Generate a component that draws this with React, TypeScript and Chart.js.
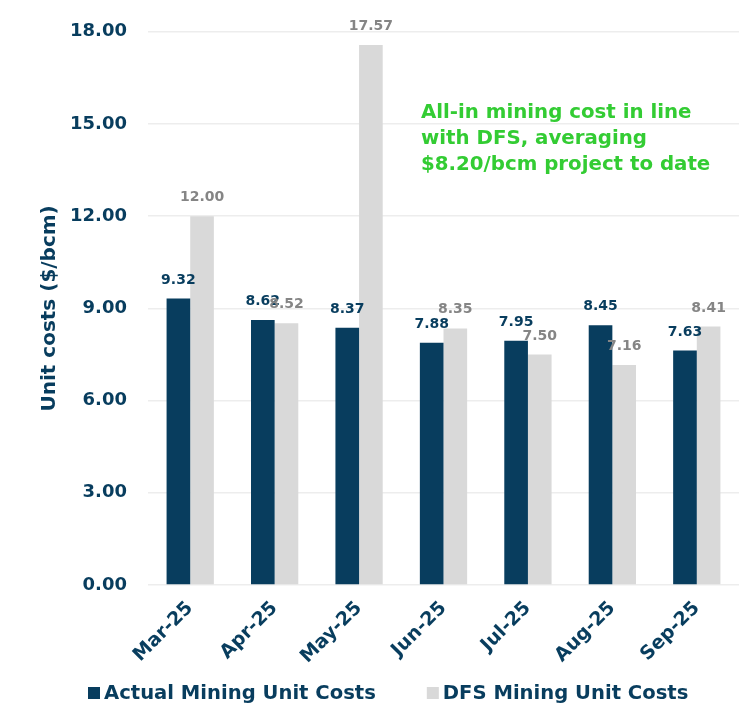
import React, { useEffect, useRef } from "react";
import { Chart, registerables } from "chart.js";

Chart.register(...registerables);

const categories = ["Mar-25", "Apr-25", "May-25", "Jun-25", "Jul-25", "Aug-25", "Sep-25"];
const actualCosts = [9.32, 8.62, 8.37, 7.88, 7.95, 8.45, 7.63];
const dfsCosts = [12.0, 8.52, 17.57, 8.35, 7.5, 7.16, 8.41];
const yTicks = [0, 3, 6, 9, 12, 15, 18];
const annotationLines = ["All-in mining cost in line", "with DFS, averaging", "$8.20/bcm project to date"];
const seriesNames = ["Actual Mining Unit Costs", "DFS Mining Unit Costs"];

const NAVY = "#083d5e";
const GRAY = "#d9d9d9";
const LABEL_GRAY = "#858585";
const GREEN = "#33cc33";
const FONT = "'DejaVu Sans', sans-serif";

export default function App() {
  const ref = useRef<HTMLCanvasElement | null>(null);
  useEffect(() => {
    if (!ref.current) return;
    const valueLabels = {
      id: "valueLabels",
      afterDatasetsDraw(chart: any) {
        const ctx = chart.ctx;
        ctx.save();
        ctx.textAlign = "center";
        ctx.textBaseline = "alphabetic";
        ctx.font = `bold 14px ${FONT}`;
        chart.data.datasets.forEach((ds: any, di: number) => {
          const meta = chart.getDatasetMeta(di);
          ctx.fillStyle = di === 0 ? NAVY : LABEL_GRAY;
          meta.data.forEach((el: any, i: number) => {
            ctx.fillText(Number(ds.data[i]).toFixed(2), el.x, el.y - 15);
          });
        });
        ctx.restore();
      },
    };
    const annotation = {
      id: "annotation",
      afterDraw(chart: any) {
        const ctx = chart.ctx;
        ctx.save();
        ctx.fillStyle = GREEN;
        ctx.font = `bold 19.8px ${FONT}`;
        ctx.textAlign = "left";
        ctx.textBaseline = "alphabetic";
        annotationLines.forEach((line, i) => {
          ctx.fillText(line, 421, 118 + i * 26);
        });
        ctx.restore();
      },
    };
    const bottomLegend = {
      id: "bottomLegend",
      afterDraw(chart: any) {
        const ctx = chart.ctx;
        ctx.save();
        ctx.font = `bold 19.6px ${FONT}`;
        ctx.textAlign = "left";
        ctx.textBaseline = "middle";
        const yMid = 693;
        let x = 88;
        chart.data.datasets.forEach((ds: any) => {
          ctx.fillStyle = ds.backgroundColor;
          ctx.fillRect(x, yMid - 6, 12, 12);
          x += 16;
          ctx.fillStyle = NAVY;
          ctx.fillText(ds.label, x, yMid + 1);
          x += ctx.measureText(ds.label).width + 51;
        });
        ctx.restore();
      },
    };
    const chart = new Chart(ref.current, {
      type: "bar",
      data: {
        labels: categories,
        datasets: [
          { label: seriesNames[0], data: actualCosts, backgroundColor: NAVY, categoryPercentage: 0.56, barPercentage: 1 },
          { label: seriesNames[1], data: dfsCosts, backgroundColor: GRAY, categoryPercentage: 0.56, barPercentage: 1 },
        ],
      },
      options: {
        animation: false,
        responsive: false,
        layout: { padding: { top: 22, right: 5, left: 38, bottom: 30 } },
        plugins: {
          legend: { display: false },
          tooltip: { enabled: false },
        },
        scales: {
          x: {
            grid: { display: false },
            border: { display: false },
            ticks: {
              color: NAVY,
              font: { family: FONT, size: 19, weight: "bold" },
              maxRotation: 45,
              minRotation: 45,
              padding: 4,
            },
            afterFit(scale: any) {
              scale.height = 92;
            },
          },
          y: {
            min: 0,
            max: 18,
            afterBuildTicks(scale: any) {
              scale.ticks = yTicks.map((v) => ({ value: v }));
            },
            grid: { color: "#ededed", lineWidth: 1.5, drawTicks: false },
            border: { display: false },
            ticks: {
              color: NAVY,
              font: { family: FONT, size: 18, weight: "bold" },
              padding: 21,
              callback: (v: any) => Number(v).toFixed(2),
            },
            title: {
              display: true,
              text: "Unit costs ($/bcm)",
              color: NAVY,
              font: { family: FONT, size: 20, weight: "bold" },
              padding: { top: 0, bottom: 0 },
            },
            afterFit(scale: any) {
              scale.width = 110;
            },
          },
        },
      },
      plugins: [valueLabels, annotation, bottomLegend],
    });
    return () => chart.destroy();
  }, []);
  return (
    <div style={{ position: "absolute", left: 0, top: 0, width: 744, height: 707, background: "#fff" }}>
      <canvas ref={ref} width={744} height={707} style={{ width: 744, height: 707 }} />
    </div>
  );
}
